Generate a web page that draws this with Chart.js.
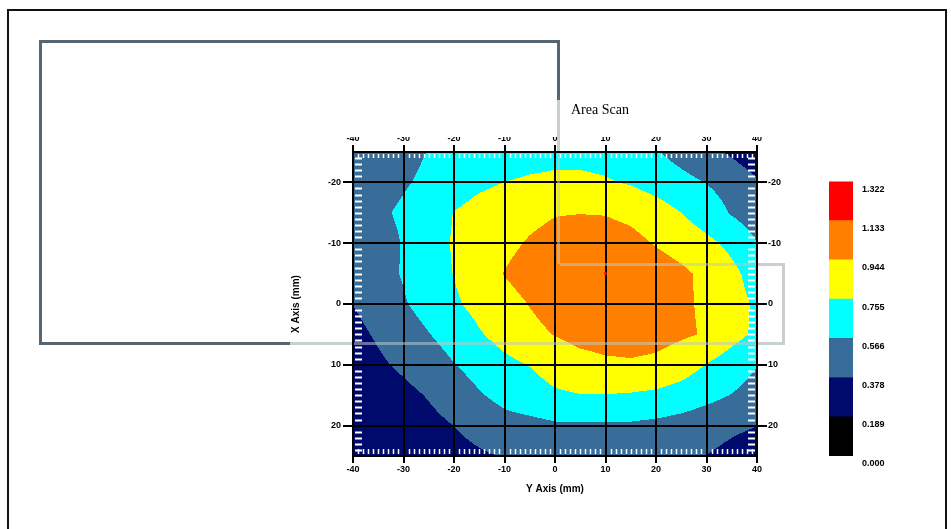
<!DOCTYPE html>
<html>
<head>
<meta charset="utf-8">
<title>Area Scan</title>
<script src="https://cdn.jsdelivr.net/npm/chart.js"></script>
<style>
  html, body { margin: 0; padding: 0; background: #fff; }
  #wrap { position: relative; width: 951px; height: 529px; overflow: hidden; }
  #frame { position: absolute; left: 7px; top: 9px; width: 936px; height: 540px; border: 2px solid #111; }
  #plot { position: absolute; left: 0; top: 0; }
  #bar { position: absolute; left: 820px; top: 167px; }
</style>
</head>
<body>
<div id="wrap">
  <div id="frame"></div>
  <canvas id="plot" width="951" height="529"></canvas>
  <canvas id="bar" width="100" height="313"></canvas>
</div>
<script>
// scan positions (mm): columns run along the Y axis, rows along the X axis
const yAxisMm = [-40, -35, -30, -25, -20, -15, -10, -5, 0, 5, 10, 15, 20, 25, 30, 35, 40];
const xAxisMm = [-25, -20, -15, -10, -5, 0, 5, 10, 15, 20, 25];

// measured amplitude, one row per X position
const amplitude = [
  [0.45, 0.48, 0.52, 0.57, 0.61, 0.64, 0.67, 0.70, 0.72, 0.72, 0.70, 0.65, 0.58, 0.50, 0.43, 0.35, 0.26],
  [0.48, 0.51, 0.55, 0.60, 0.66, 0.72, 0.757, 0.775, 0.78, 0.78, 0.77, 0.74, 0.68, 0.62, 0.56, 0.50, 0.40],
  [0.50, 0.54, 0.59, 0.66, 0.76, 0.82, 0.86, 0.90, 0.935, 0.94, 0.935, 0.90, 0.84, 0.755, 0.66, 0.55, 0.47],
  [0.47, 0.50, 0.575, 0.68, 0.77, 0.84, 0.90, 0.96, 1.00, 1.03, 1.03, 1.00, 0.93, 0.87, 0.80, 0.71, 0.57],
  [0.45, 0.50, 0.58, 0.68, 0.76, 0.86, 0.95, 1.02, 1.07, 1.10, 1.11, 1.09, 1.04, 0.98, 0.90, 0.80, 0.68],
  [0.38, 0.45, 0.55, 0.64, 0.73, 0.81, 0.88, 0.95, 1.01, 1.05, 1.07, 1.07, 1.04, 0.98, 0.91, 0.82, 0.73],
  [0.33, 0.40, 0.47, 0.56, 0.64, 0.74, 0.82, 0.90, 0.95, 1.00, 1.02, 1.03, 1.01, 0.97, 0.93, 0.82, 0.72],
  [0.28, 0.35, 0.41, 0.48, 0.56, 0.64, 0.71, 0.76, 0.83, 0.88, 0.91, 0.92, 0.90, 0.84, 0.75, 0.66, 0.57],
  [0.26, 0.29, 0.33, 0.39, 0.46, 0.55, 0.62, 0.68, 0.73, 0.75, 0.75, 0.74, 0.72, 0.68, 0.62, 0.56, 0.50],
  [0.24, 0.27, 0.30, 0.33, 0.379, 0.45, 0.50, 0.51, 0.54, 0.545, 0.545, 0.54, 0.52, 0.49, 0.45, 0.41, 0.38],
  [0.20, 0.22, 0.25, 0.28, 0.31, 0.35, 0.39, 0.43, 0.46, 0.48, 0.48, 0.47, 0.44, 0.40, 0.376, 0.33, 0.29]
];

// peak position marker
const peak = [{ x: 10, y: -5 }];

// colour scale
const levels = [0.000, 0.189, 0.378, 0.566, 0.755, 0.944, 1.133, 1.322];
const levelLabels = ['0.000', '0.189', '0.378', '0.566', '0.755', '0.944', '1.133', '1.322'];
const bandColors = ['#000000', '#000a6c', '#376d98', '#00ffff', '#ffff00', '#ff8000', '#ff0000'];

// tick labels
const xTicks = [-40, -30, -20, -10, 0, 10, 20, 30, 40];
const yTicks = [-20, -10, 0, 10, 20];

const tickFont = { family: 'Liberation Sans', size: 9, weight: 'bold' };
const titleFont = { family: 'Liberation Sans', size: 10, weight: 'bold' };

function hexToRgb(hex) {
  const n = parseInt(hex.slice(1), 16);
  return [(n >> 16) & 255, (n >> 8) & 255, n & 255];
}

// find the cell that holds v and the fraction inside it
function locate(arr, v) {
  if (v <= arr[0]) return [0, 0];
  for (let i = 0; i < arr.length - 1; i++) {
    if (v <= arr[i + 1]) return [i, (v - arr[i]) / (arr[i + 1] - arr[i])];
  }
  return [arr.length - 2, 1];
}

function valueAt(yv, xv) {
  const [c, tc] = locate(yAxisMm, yv);
  const [r, tr] = locate(xAxisMm, xv);
  const a = amplitude[r][c], b = amplitude[r][c + 1];
  const d = amplitude[r + 1][c], e = amplitude[r + 1][c + 1];
  return (a * (1 - tc) + b * tc) * (1 - tr) + (d * (1 - tc) + e * tc) * tr;
}

// filled contour bands painted under the grid lines
const contourFill = {
  id: 'contourFill',
  beforeDraw(chart) {
    const { ctx, chartArea: a, scales } = chart;
    const left = Math.round(a.left), top = Math.round(a.top);
    const w = Math.round(a.right) - left, h = Math.round(a.bottom) - top;
    const img = ctx.createImageData(w, h);
    const rgb = bandColors.map(hexToRgb);
    for (let j = 0; j < h; j++) {
      const xv = scales.y.getValueForPixel(top + j + 0.5);
      for (let i = 0; i < w; i++) {
        const yv = scales.x.getValueForPixel(left + i + 0.5);
        const v = valueAt(yv, xv);
        let band = 0;
        while (band < bandColors.length - 1 && v >= levels[band + 1]) band++;
        const k = (j * w + i) * 4;
        img.data[k] = rgb[band][0];
        img.data[k + 1] = rgb[band][1];
        img.data[k + 2] = rgb[band][2];
        img.data[k + 3] = 255;
      }
    }
    ctx.putImageData(img, left, top);
  }
};

function seg(ctx, x1, y1, x2, y2, color, width) {
  ctx.strokeStyle = color;
  ctx.lineWidth = width;
  ctx.beginPath();
  ctx.moveTo(x1, y1);
  ctx.lineTo(x2, y2);
  ctx.stroke();
}

// minor ticks inside the frame, the title and the window outlines
const overlay = {
  id: 'overlay',
  afterDraw(chart) {
    const { ctx, chartArea: a, scales } = chart;
    ctx.save();
    for (let mm = -39; mm <= 39; mm++) {
      if (mm % 10 === 0) continue;
      const px = Math.round(scales.x.getPixelForValue(mm)) + 0.5;
      seg(ctx, px, a.top + 2, px, a.top + 6, '#fff', 1.5);
      seg(ctx, px, a.bottom - 7, px, a.bottom - 2, '#fff', 1.5);
    }
    for (let mm = -24; mm <= 24; mm++) {
      if (mm % 10 === 0) continue;
      const py = Math.round(scales.y.getPixelForValue(mm)) + 0.5;
      seg(ctx, a.left + 2, py, a.left + 9, py, '#fff', 2);
      seg(ctx, a.right - 9, py, a.right - 2, py, '#fff', 2);
    }

    const slate = '#56656f', pale = '#c9d0d0', paleOver = 'rgba(190,198,198,0.55)';
    seg(ctx, 39, 41.5, 560, 41.5, slate, 3);
    seg(ctx, 40.5, 40, 40.5, 345, slate, 3);
    seg(ctx, 39, 343.5, 290, 343.5, slate, 3);
    seg(ctx, 558.5, 40, 558.5, 100, slate, 3);
    seg(ctx, 558.5, 100, 558.5, 151, pale, 3);
    seg(ctx, 558.5, 153, 558.5, 264, paleOver, 3);
    seg(ctx, 290, 343.5, 352, 343.5, pale, 3);
    seg(ctx, 354, 343.5, 756, 343.5, paleOver, 3);
    seg(ctx, 758, 343.5, 785, 343.5, pale, 3);
    seg(ctx, 560, 264.5, 756, 264.5, paleOver, 3);
    seg(ctx, 758, 264.5, 785, 264.5, pale, 3);
    seg(ctx, 783.5, 263, 783.5, 345, pale, 3);

    ctx.fillStyle = '#000';
    ctx.font = '14px "Liberation Serif"';
    ctx.textBaseline = 'middle';
    ctx.fillText('Area Scan', 571, 110);
    ctx.restore();
  }
};

function fixedTicks(list) {
  return scale => { scale.ticks = list.map(v => ({ value: v })); };
}

new Chart(document.getElementById('plot'), {
  type: 'scatter',
  data: {
    datasets: [{
      data: peak,
      pointRadius: 1.5,
      pointBackgroundColor: '#ff0000',
      pointBorderWidth: 0
    }]
  },
  options: {
    responsive: false,
    devicePixelRatio: 1,
    animation: false,
    events: [],
    layout: { padding: { left: 290, right: 164, top: 137, bottom: 34 } },
    plugins: { legend: { display: false }, tooltip: { enabled: false } },
    scales: {
      x: {
        type: 'linear', position: 'bottom', min: -40, max: 40,
        afterBuildTicks: fixedTicks(xTicks),
        grid: { color: '#000', lineWidth: 2, tickLength: 7 },
        border: { color: '#000', width: 2 },
        ticks: { color: '#000', font: tickFont, padding: 1, maxRotation: 0, autoSkip: false },
        title: { display: true, text: 'Y Axis (mm)', color: '#000', font: titleFont, padding: { top: 4, bottom: 0 } },
        afterFit: s => { s.height = 39; }
      },
      x2: {
        type: 'linear', axis: 'x', position: 'top', min: -40, max: 40,
        afterBuildTicks: fixedTicks(xTicks),
        grid: { color: '#000', lineWidth: 2, tickLength: 7, drawOnChartArea: false },
        border: { color: '#000', width: 2 },
        ticks: { color: '#000', font: tickFont, padding: 1, maxRotation: 0, autoSkip: false },
        afterFit: s => { s.height = 15; }
      },
      y: {
        type: 'linear', position: 'left', min: -25, max: 25, reverse: true,
        afterBuildTicks: fixedTicks(yTicks),
        grid: { color: '#000', lineWidth: 2, tickLength: 10 },
        border: { color: '#000', width: 2 },
        ticks: { color: '#000', font: tickFont, padding: 2, autoSkip: false },
        title: { display: true, text: 'X Axis (mm)', color: '#000', font: titleFont, padding: { top: 0, bottom: 26 } },
        afterFit: s => { s.width = 63; }
      },
      y2: {
        type: 'linear', axis: 'y', position: 'right', min: -25, max: 25, reverse: true,
        afterBuildTicks: fixedTicks(yTicks),
        grid: { color: '#000', lineWidth: 2, tickLength: 10, drawOnChartArea: false },
        border: { color: '#000', width: 2 },
        ticks: { color: '#000', font: tickFont, padding: 1, autoSkip: false },
        afterFit: s => { s.width = 30; }
      }
    }
  },
  plugins: [contourFill, overlay]
});

// colour legend as a stacked bar
new Chart(document.getElementById('bar'), {
  type: 'bar',
  data: {
    labels: [''],
    datasets: bandColors.map((c, i) => ({
      data: [levels[i + 1] - levels[i]],
      backgroundColor: c,
      borderWidth: 0,
      barPercentage: 1,
      categoryPercentage: 1
    }))
  },
  options: {
    responsive: false,
    devicePixelRatio: 1,
    animation: false,
    events: [],
    layout: { padding: { left: 9, right: 0, top: 8, bottom: 24 } },
    plugins: { legend: { display: false }, tooltip: { enabled: false } },
    scales: {
      x: { stacked: true, display: false },
      y: {
        stacked: true, position: 'right', min: 0, max: levels[levels.length - 1],
        afterBuildTicks: fixedTicks(levels),
        grid: { display: false, drawTicks: false },
        border: { display: false },
        ticks: { color: '#000', font: tickFont, padding: 9, labelOffset: 8, callback: (v, i) => levelLabels[i] },
        afterFit: s => { s.width = 67; }
      }
    }
  }
});
</script>
</body>
</html>
